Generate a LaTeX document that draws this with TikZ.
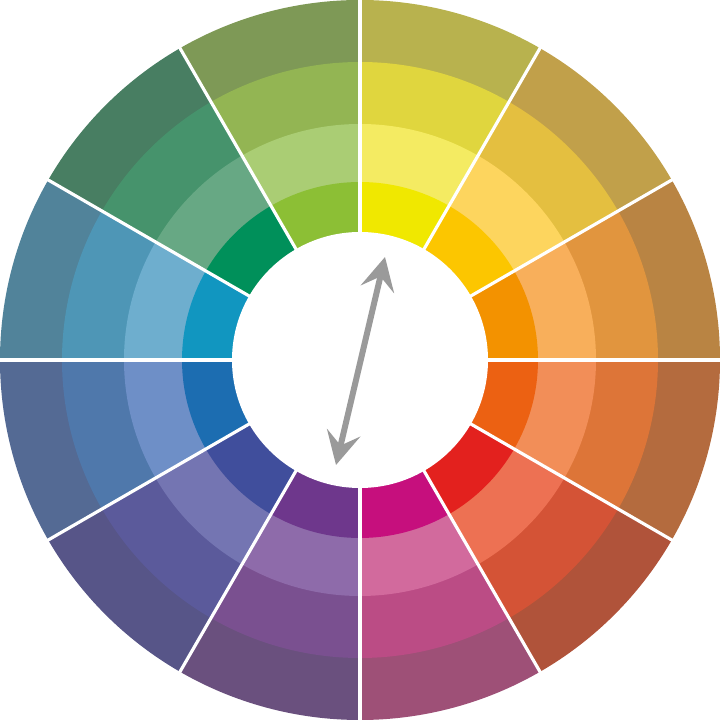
\documentclass[tikz,border=0pt]{standalone}
\usepackage{xcolor}
\usepackage{tikz}
\usetikzlibrary{arrows.meta}

\definecolor{arrowgray}{HTML}{9A9A9A}

\tikzset{
    gap/.style={draw=white, line width=0.9pt},
    twohead/.style={draw=arrowgray, line width=1.7pt,
        >={Stealth[length=3.3mm, width=3.4mm, inset=1.3mm]}, <->},
}

\begin{document}
\begin{tikzpicture}[x=0.01cm, y=0.01cm]
    \path[use as bounding box, fill=white] (-360,-368) rectangle (361,360);

    % start angle / outer, third, second, inner ring
    \foreach \a/\ca/\cb/\cc/\cd in {
        60/B8B24E/E0D63E/F4EB62/F0E800,
        30/C1A04A/E4BF40/FDD55E/FCC600,
        0/B98443/E1953E/F8AF5B/F39200,
        330/B46B3E/DD7538/F28E58/EC6112,
        300/B0533A/D45336/ED7153/E3211E,
        270/9E5077/BB4C85/D26A9D/C60F7D,
        240/6A507E/7A5090/8E6BAA/6E378C,
        210/575588/5B5A9B/7475B2/404E9C,
        180/546A94/4F78AB/6E8FC7/1C6DB1,
        150/51839A/4E96B6/6EAECE/1196C0,
        120/487E62/46936C/67A884/00905A,
        90/7E9956/93B553/AACD74/8CBF35} {
        \definecolor{ringA}{HTML}{\ca}
        \definecolor{ringB}{HTML}{\cb}
        \definecolor{ringC}{HTML}{\cc}
        \definecolor{ringD}{HTML}{\cd}
        \fill[ringA] (0,0) -- (\a:360) arc[start angle=\a, delta angle=30, radius=360] -- cycle;
        \fill[ringB] (0,0) -- (\a:298) arc[start angle=\a, delta angle=30, radius=298] -- cycle;
        \fill[ringC] (0,0) -- (\a:236) arc[start angle=\a, delta angle=30, radius=236] -- cycle;
        \fill[ringD] (0,0) -- (\a:178) arc[start angle=\a, delta angle=30, radius=178] -- cycle;
    }

    \fill[white] (0,0) circle[radius=128];

    \foreach \a in {0,30,...,330}
        \draw[gap] (\a:126) -- (\a:361);

    \coordinate (toYellow) at (25,103);
    \coordinate (toViolet) at (-24,-105);
    \draw[twohead] (toViolet) -- (toYellow);
\end{tikzpicture}
\end{document}
